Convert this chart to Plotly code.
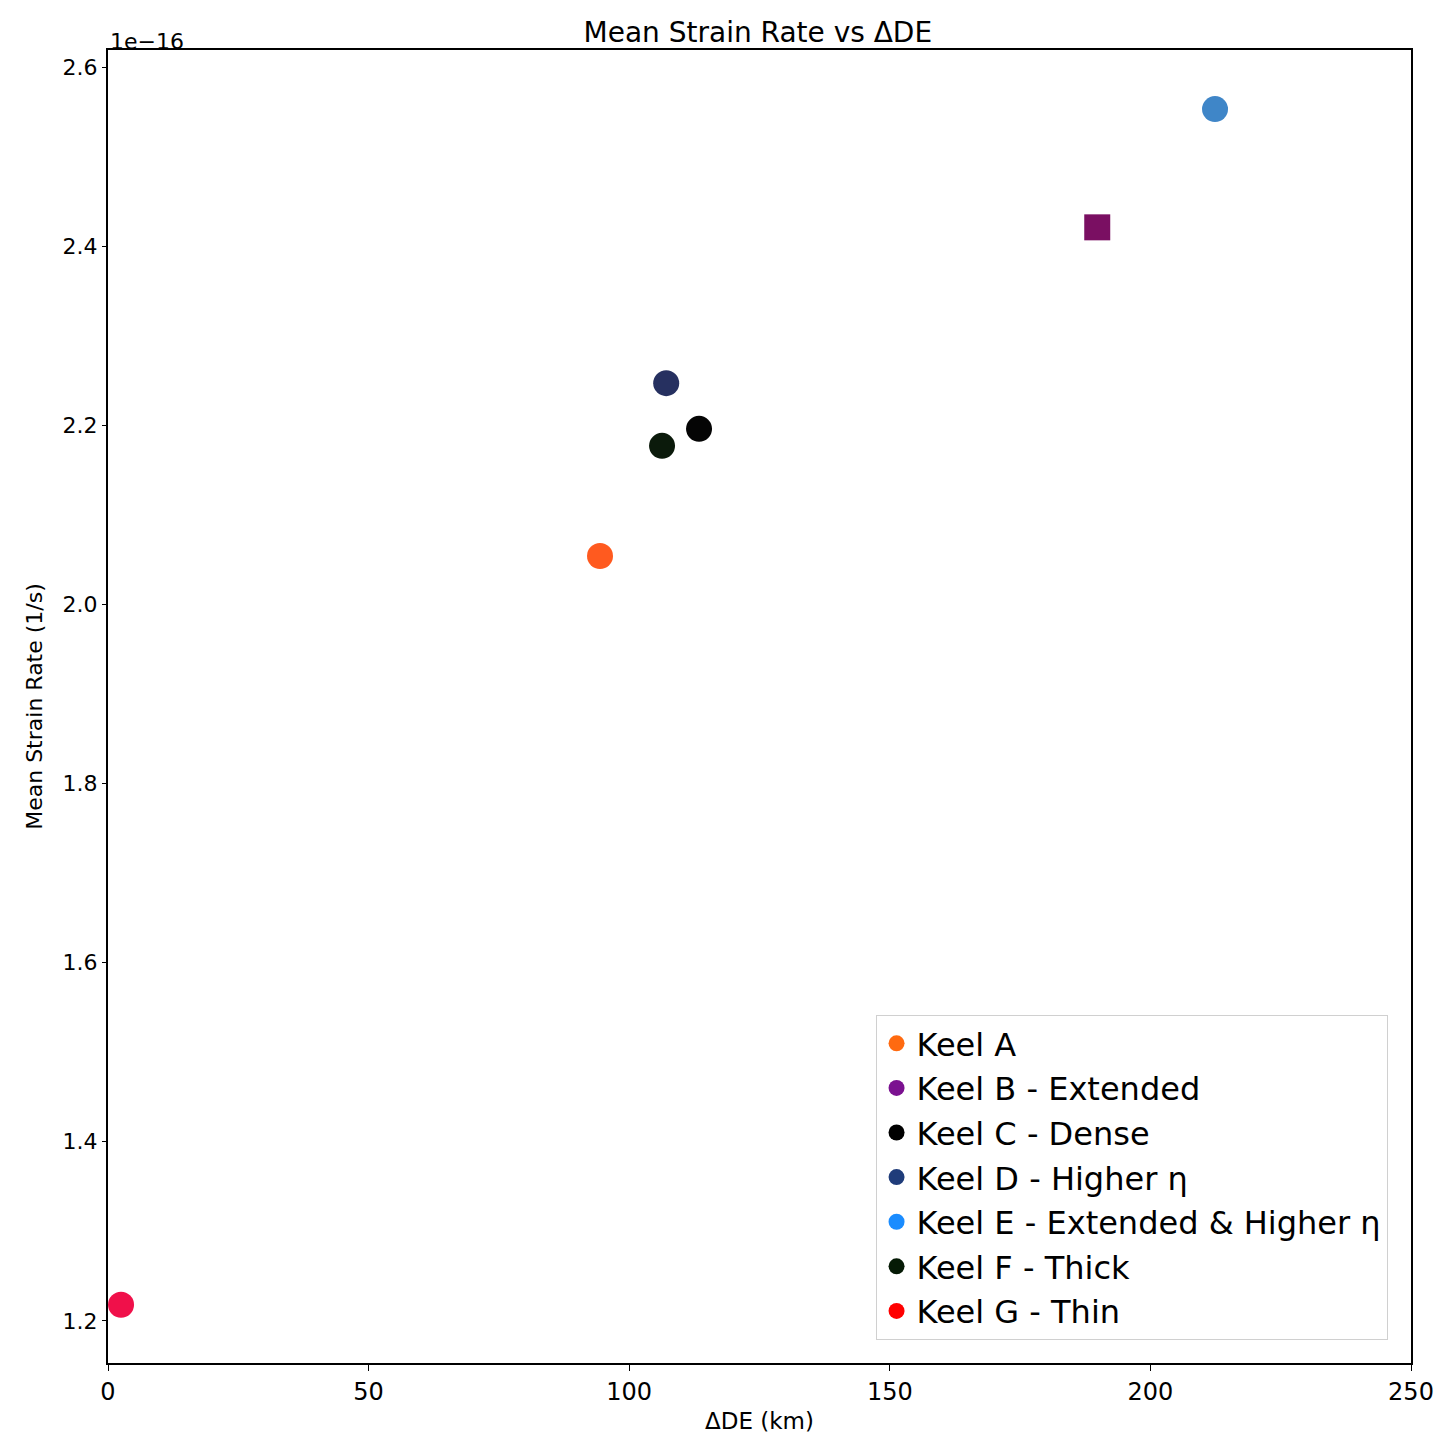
import plotly.graph_objects as go

# Data (y in units of 1/s)
names = ["Keel A", "Keel B - Extended", "Keel C - Dense", "Keel D - Higher η",
         "Keel E - Extended & Higher η", "Keel F - Thick", "Keel G - Thin"]
delta_de = [94.4, 189.8, 113.4, 107.1, 212.4, 106.3, 2.5]
strain_rate = [2.054e-16, 2.421e-16, 2.196e-16, 2.247e-16, 2.553e-16, 2.177e-16, 1.218e-16]
colors = ["#ff5a1f", "#7a0f62", "#050505", "#263060", "#3f86c8", "#0b1a0b", "#f0104a"]
legend_colors = ["#ff6a10", "#7b1190", "#000000", "#1f3c7a", "#1a8cff", "#051a05", "#ff0000"]
symbols = ["circle", "square", "circle", "circle", "circle", "circle", "circle"]

y_ticks = [1.2e-16, 1.4e-16, 1.6e-16, 1.8e-16, 2.0e-16, 2.2e-16, 2.4e-16, 2.6e-16]
y_tick_labels = ["1.2", "1.4", "1.6", "1.8", "2.0", "2.2", "2.4", "2.6"]
x_ticks = [0, 50, 100, 150, 200, 250]

font_family = "DejaVu Sans"

fig = go.Figure()
for i, n in enumerate(names):
    fig.add_trace(go.Scatter(
        x=[delta_de[i]], y=[strain_rate[i]], mode="markers", name=n,
        showlegend=False,
        marker=dict(size=26, color=colors[i], symbol=symbols[i], line=dict(width=0)),
    ))
for i, n in enumerate(names):
    fig.add_trace(go.Scatter(
        x=[None], y=[None], mode="markers", name=n,
        marker=dict(size=30, color=legend_colors[i], symbol="circle"),
    ))

fig.update_layout(
    width=1449, height=1445,
    margin=dict(l=108, r=38, t=50, b=82),
    paper_bgcolor="white", plot_bgcolor="white",
    font=dict(family=font_family, color="black", size=22),
    title=dict(text="Mean Strain Rate vs ΔDE", x=0.523, xanchor="center",
               y=0.9775, yanchor="middle", font=dict(size=28)),
    xaxis=dict(range=[0, 250], tickvals=x_ticks, showgrid=False, zeroline=False,
               showline=True, linecolor="black", linewidth=2, mirror=True,
               ticks="outside", ticklen=6, tickcolor="black",
               tickfont=dict(size=24),
               title=dict(text="ΔDE (km)", font=dict(size=23), standoff=8)),
    yaxis=dict(range=[1.153e-16, 2.619e-16], tickvals=y_ticks, ticktext=y_tick_labels,
               showgrid=False, zeroline=False,
               showline=True, linecolor="black", linewidth=2, mirror=True,
               ticks="outside", ticklen=4, tickcolor="black",
               tickfont=dict(size=22),
               title=dict(text="Mean Strain Rate (1/s)", font=dict(size=22), standoff=14)),
    legend=dict(x=0.982, y=0.0175, xanchor="right", yanchor="bottom",
                bgcolor="white", bordercolor="#d0d0d0", borderwidth=1,
                font=dict(size=32), itemsizing="trace", tracegroupgap=0),
    annotations=[dict(text="1e−16", xref="paper", yref="paper", x=0.0, y=1.0,
                      xanchor="left", yanchor="bottom", showarrow=False,
                      font=dict(size=22), yshift=-6)],
)

fig.write_html("out.html")
